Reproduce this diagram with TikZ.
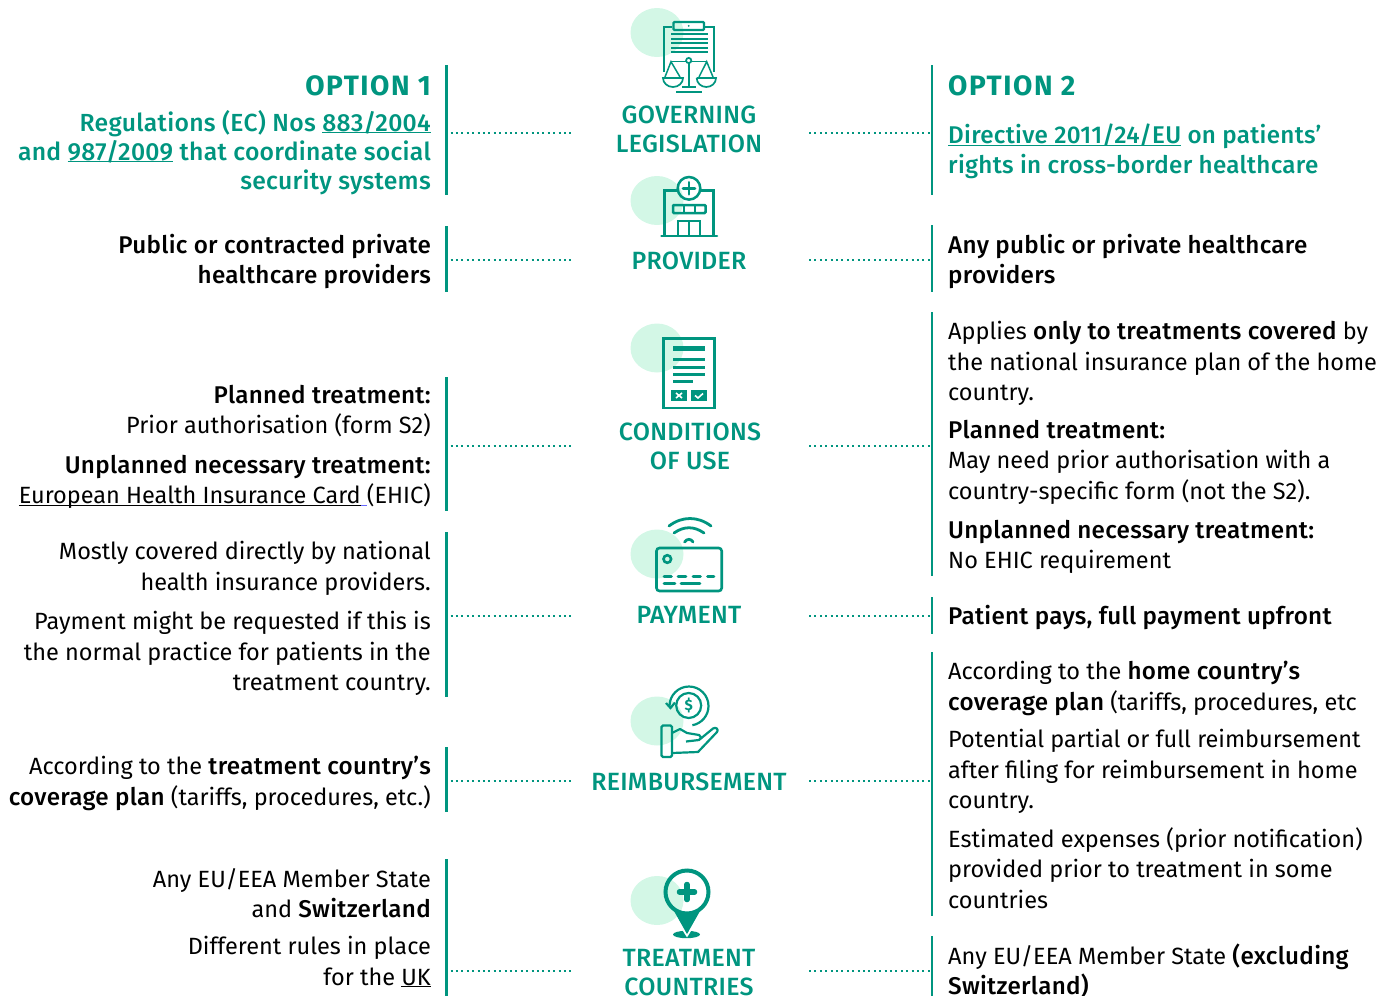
\documentclass[tikz,border=0pt]{standalone}
\usepackage{fontspec}
\setmainfont{Fira Sans}[BoldFont={Fira Sans Medium},BoldFeatures={Scale=1.03,LetterSpace=1.2}]
\newfontfamily\headf{Fira Sans}[LetterSpace=5.5]
\newfontfamily\dolf{Fira Sans}
\definecolor{teal}{HTML}{00957F}
\definecolor{mint}{HTML}{D3F7E6}
\newcommand{\bb}[1]{{\bfseries #1}}
\newcommand{\ul}[1]{\underline{\smash{#1}}}
\tikzset{
  lblock/.style={anchor=north east,align=right,inner sep=0pt,font=\fontsize{23.5}{30.5}\selectfont},
  rblock/.style={anchor=north west,align=left,inner sep=0pt,font=\fontsize{23.5}{30.5}\selectfont},
  tblock/.style={font=\fontsize{24}{29}\selectfont},
  clabel/.style={anchor=north,align=center,inner sep=0pt,text=teal,font=\fontsize{24.2}{29}\selectfont\bfseries},
  head/.style={inner sep=0pt,text=teal,font=\fontsize{28}{30}\selectfont\headf\bfseries},
  bar/.style={draw=teal,line width=2.4pt},
  dots/.style={draw=teal,line width=2pt,dash pattern=on 2pt off 3.4pt},
  blob/.style={fill=mint,draw=none},
  ico/.style={draw=teal,line width=2.5pt,fill=none},
  thin/.style={draw=teal,line width=1.7pt},
}
\begin{document}
\begin{tikzpicture}[x=1pt,y=-1pt]
\useasboundingbox (0,0) rectangle (1393,996);
% bars
\foreach \n/\a/\b in {a/65/195,b/226/292,c/377/511,d/532/697,e/747/812,f/859/996}
  {\coordinate (L\n t) at (446.6,\a); \coordinate (L\n b) at (446.6,\b); \draw[bar] (L\n t) -- (L\n b);}
\foreach \n/\a/\b in {a/65/195,b/225/292,c/312/576,d/597/634,e/652/916,f/936/996}
  {\coordinate (R\n t) at (932,\a); \coordinate (R\n b) at (932,\b); \draw[bar] (R\n t) -- (R\n b);}
% dots
\foreach \n/\y in {a/132.6,b/260,c/445.5,d/615.5,e/780.5,f/970.5}{
  \coordinate (p\n1) at (450.5,\y); \coordinate (p\n2) at (572,\y);
  \coordinate (p\n3) at (809,\y); \coordinate (p\n4) at (930,\y);
  \draw[dots] (p\n1) -- (p\n2); \draw[dots] (p\n3) -- (p\n4);
}
% blobs
\foreach \n/\y in {a/32.5,b/200.5,c/348,d/554,e/721,f/900.5}
  \fill[blob] (657,\y) ellipse (26.5 and 24.5);
% icon a: legislation
\draw[ico,line width=2pt] (672,27) -- (664,27) -- (664,72);
\draw[ico,line width=2pt] (705,27) -- (714,27) -- (714,72);
\draw[ico,line width=2.2pt,rounded corners=1pt] (673.5,22) rectangle (704,30);
\fill[teal] (688.7,25.8) circle (1);
\foreach \y in {34.3,39,43.3,47.7,52.3}{\draw[thin] (671,\y) -- (708,\y);}
\draw[thin] (688.7,60.5) circle (2.6);
\draw[thin] (688.7,63) -- (688.7,87) (682,87) -- (695.5,87);
\draw[teal,line width=2pt] (676,91.8) -- (702,91.8);
\draw[teal,line width=1.5pt] (686,61.7) -- (671,61.7) (691.4,61.7) -- (706.7,61.7);
\draw[teal,line width=1.5pt] (665,77) -- (671,61.7) -- (680,77) (699,77) -- (706.7,61.7) -- (713,77);
\draw[thin] (663,78) -- (683,78) arc (0:180:10 and 9) -- cycle;
\draw[thin] (696.7,78) -- (716,78) arc (0:180:9.65 and 9) -- cycle;
% icon b: provider
\draw[ico] (678,190.5) -- (664.5,190.5) -- (664.5,236);
\draw[ico] (700,190.5) -- (713.5,190.5) -- (713.5,236);
\draw[ico] (689,188.3) circle (11.3);
\draw[teal,line width=2.8pt,line cap=round] (689,182.3) -- (689,194.3) (683,188.3) -- (695,188.3);
\draw[teal,line width=2.6pt,line cap=round] (661.5,236) -- (717,236);
\draw[ico,rounded corners=1pt] (673,205) rectangle (705.5,213);
\draw[teal,line width=2pt] (684,205) -- (684,213) (694.5,205) -- (694.5,213);
\draw[ico] (678,236) -- (678,221) -- (700,221) -- (700,236) (689,221) -- (689,236);
% icon c: conditions
\draw[ico,line width=2.6pt] (663.3,338.3) rectangle (714.7,408);
\fill[teal] (673,346) rectangle (705,351);
\foreach \y/\x in {359.3/705,367.3/705,374.3/705,381.3/693}{\draw[teal,line width=2.4pt] (673,\y) -- (\x,\y);}
\fill[teal] (670.7,390) rectangle (687.3,401);
\fill[teal] (690.7,390) rectangle (707.3,401);
\draw[white,line width=1.6pt] (676,393) -- (682,398) (682,393) -- (676,398);
\draw[white,line width=1.6pt] (695,395.5) -- (698,398) -- (703,393.5);
% icon d: payment
\draw[teal,line width=2.6pt,rounded corners=3pt] (656.5,548) rectangle (721.7,591);
\draw[ico,line width=2.6pt] (667.3,559) circle (3.8);
\draw[teal,line width=2.6pt,line cap=round] (664,576.7) -- (671.5,576.7) (678,576.7) -- (686,576.7) (693,576.7) -- (700.5,576.7) (707.5,576.7) -- (714,576.7)
  (664,583.3) -- (675,583.3) (681,583.3) -- (700,583.3);
\draw[teal,line width=2.8pt,line cap=round] (669,526) .. controls (682,516) and (698,516) .. (711,526);
\draw[teal,line width=2.8pt,line cap=round] (674,533) .. controls (684,526) and (694,526) .. (704,533);
\draw[teal,line width=2.8pt,line cap=round] (684.5,542) .. controls (687,538.5) and (691,538.5) .. (693,542);
% icon e: reimbursement
\draw[ico,line width=2.2pt] (688.7,705.5) circle (12.5);
\draw[teal,line width=2.2pt] (669.5,706) arc (180:440:19.5);
\draw[teal,line width=2.2pt] (666,703) -- (670.5,708) -- (675,702.5);
\node[inner sep=0pt,text=teal,font=\fontsize{15}{15}\selectfont\dolf\bfseries] (dol) at (688.7,705.5) {\$};
\draw[ico,line width=2.2pt,rounded corners=1.5pt] (661.5,725.5) rectangle (672,757);
\draw[ico,line width=2.2pt,line join=round] (672,733) -- (680,729) -- (687,733) -- (699,735) .. controls (701.5,736.5) and (701,740) .. (699,740) -- (686,741.5)
  (699,740) -- (713,728.5) .. controls (716,726.5) and (719,729.5) .. (717,732) -- (698,752) -- (672,753);
% icon f: pin
\fill[teal] (686.5,934.5) ellipse (13.5 and 3.7);
\draw[white,line width=2pt] (676,918) -- (687,935.5) -- (698,918);
\draw[teal,line width=4pt] (687,892) circle (21.5);
\fill[teal] (670,904) -- (687,934) -- (704,904) arc (36:144:21) -- cycle;
\draw[teal,line width=5.5pt,line cap=round] (687,884.5) -- (687,899.5) (679.5,892) -- (694.5,892);
% centre labels
\node[clabel] (cg) at (689,106) {GOVERNING\\LEGISLATION};
\node[clabel] (cp) at (689,252) {PROVIDER};
\node[clabel] (cc) at (690,422.5) {CONDITIONS\\OF USE};
\node[clabel] (cy) at (689,606.5) {PAYMENT};
\node[clabel] (cr) at (689,773) {REIMBURSEMENT};
\node[clabel] (ct) at (689,949) {TREATMENT\\COUNTRIES};
% headings
\node[head,anchor=base east] (o1) at (431,95) {OPTION 1};
\node[head,anchor=base west] (o2) at (948,95) {OPTION 2};
% left
\node[lblock,tblock,text=teal] (l1) at (431,110) {\bb{Regulations (EC) Nos \ul{883/2004}}\\\bb{and \ul{987/2009} that coordinate social}\\\bb{security systems}};
\node[lblock] (l2) at (431,234) {\bb{Public or contracted private}\\\bb{healthcare providers}};
\node[lblock] (l3a) at (431,385) {\bb{Planned treatment:}\\Prior authorisation (form S2)};
\node[lblock] (l3b) at (431,455) {\bb{Unplanned necessary treatment:}\\\ul{European Health Insurance Card}\textcolor{blue!60}{\ul{\ }}(EHIC)};
\node[lblock] (l4a) at (431,541) {Mostly covered directly by national\\health insurance providers.};
\node[lblock] (l4b) at (431,611) {Payment might be requested if this is\\the normal practice for patients in the\\treatment country.};
\node[lblock] (l5) at (431,756) {According to the \bb{treatment country’s}\\\bb{coverage plan} (tariffs, procedures, etc.)};
\node[lblock] (l6a) at (431,868) {Any EU/EEA Member State\\and \bb{Switzerland}};
\node[lblock] (l6b) at (431,936) {Different rules in place\\for the \ul{UK}};
% right
\node[rblock,text=teal] (r1) at (948,124) {\bb{\ul{Directive 2011/24/EU} on patients’}\\\bb{rights in cross-border healthcare}};
\node[rblock] (r2) at (948,234) {\bb{Any public or private healthcare}\\\bb{providers}};
\node[rblock] (r3a) at (948,321) {Applies \bb{only to treatments covered} by\\the national insurance plan of the home\\country.};
\node[rblock] (r3b) at (948,420) {\bb{Planned treatment:}\\May need prior authorisation with a\\country-specific form (not the S2).};
\node[rblock] (r3c) at (948,520) {\bb{Unplanned necessary treatment:}\\No EHIC requirement};
\node[rblock] (r4) at (948,605) {\bb{Patient pays, full payment upfront}};
\node[rblock] (r5a) at (948,661) {According to the \bb{home country’s}\\\bb{coverage plan} (tariffs, procedures, etc};
\node[rblock] (r5b) at (948,729) {Potential partial or full reimbursement\\after filing for reimbursement in home\\country.};
\node[rblock] (r5c) at (948,827) {Estimated expenses (prior notification)\\provided prior to treatment in some\\countries};
\node[rblock] (r6) at (948,943.5) {Any EU/EEA Member State \bb{(excluding}\\\bb{Switzerland)}};
\end{tikzpicture}
\end{document}
